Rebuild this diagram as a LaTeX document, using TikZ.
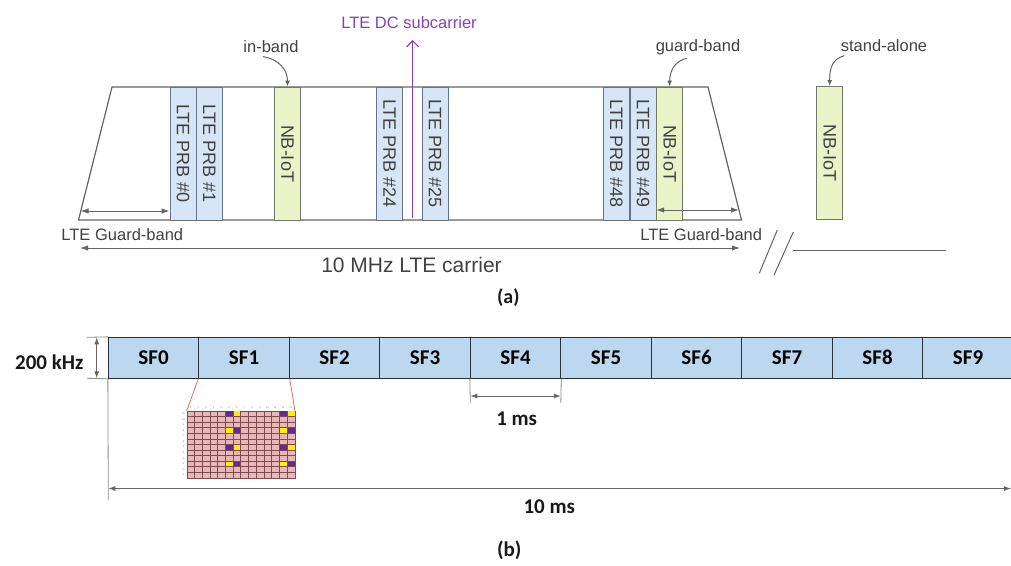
\documentclass[tikz,border=0pt]{standalone}
\usepackage{fontspec}
\setmainfont{Liberation Sans}
\newfontfamily\calibri{Carlito}
\usepackage{graphicx}
\usetikzlibrary{arrows.meta}

\definecolor{prbblue}{RGB}{214,230,247}
\definecolor{prbedge}{RGB}{100,115,135}
\definecolor{nbgreen}{RGB}{234,244,200}
\definecolor{nbedge}{RGB}{115,120,100}
\definecolor{linegray}{RGB}{100,100,100}
\definecolor{txtgray}{RGB}{65,65,65}
\definecolor{dcpurple}{RGB}{135,65,180}
\definecolor{sfblue}{RGB}{189,215,238}
\definecolor{sfedge}{RGB}{40,50,60}
\definecolor{rbpink}{RGB}{230,185,184}
\definecolor{rbline}{RGB}{125,75,80}
\definecolor{rbpurple}{RGB}{100,40,150}
\definecolor{rbyellow}{RGB}{255,240,0}
\definecolor{zoomred}{RGB}{225,110,110}

\tikzset{
  band/.style={draw=prbedge, fill=prbblue, line width=1pt, minimum width=26pt,
    minimum height=133pt, inner sep=0pt, text=txtgray, font=\fontsize{18}{20}\selectfont},
  nbiot/.style={band, draw=nbedge, fill=nbgreen},
  lbl/.style={text=txtgray, font=\fontsize{16.5}{19}\selectfont},
  bendarrow/.style={draw=linegray, line width=1pt, -{Latex[length=6pt,width=5pt]}},
  dimarrow/.style={draw=linegray, line width=1pt,
    {Latex[length=8pt,width=5.5pt]}-{Latex[length=8pt,width=5.5pt]}},
  sf/.style={draw=sfedge, fill=sfblue, line width=0.9pt, minimum width=90.5pt,
    minimum height=41pt, inner sep=0pt, font=\calibri\bfseries\fontsize{21}{24}\selectfont},
  blbl/.style={text=black!90, font=\calibri\bfseries\fontsize{21}{24}\selectfont},
  bdim/.style={draw=black!60, line width=0.9pt,
    {Latex[length=7pt,width=5pt]}-{Latex[length=7pt,width=5pt]}},
  tick/.style={draw=black!45, line width=0.8pt},
}

\begin{document}
\begin{tikzpicture}[x=1pt,y=-1pt]
   \useasboundingbox (0,0) rectangle (1011,565);

   % (a) 10 MHz LTE carrier
   \draw[linegray, line width=1.2pt] (112,87) -- (708,87) -- (741.5,220) -- (78.5,220) -- cycle;

   \node[band] (prb0) at (183,153.5) {\rotatebox{-90}{LTE PRB \#0}};
   \node[band] (prb1) at (209.2,153.5) {\rotatebox{-90}{LTE PRB \#1}};
   \node[nbiot] (nbin) at (287.5,153.5) {\rotatebox{-90}{NB-IoT}};
   \node[band] (prb24) at (389.7,153.5) {\rotatebox{-90}{LTE PRB \#24}};
   \node[band] (prb25) at (435,153.5) {\rotatebox{-90}{LTE PRB \#25}};
   \node[band] (prb48) at (616.3,153.5) {\rotatebox{-90}{LTE PRB \#48}};
   \node[band] (prb49) at (643,153.5) {\rotatebox{-90}{LTE PRB \#49}};
   \node[nbiot] (nbgb) at (669.7,153.5) {\rotatebox{-90}{NB-IoT}};
   \node[nbiot] (nbsa) at (829.7,153) {\rotatebox{-90}{NB-IoT}};

   \node[lbl] (inband) at (271,47) {in-band};
   \node[lbl] (gband) at (698,47) {guard-band};
   \node[lbl] (salone) at (884,46) {stand-alone};
   \node[lbl, text=dcpurple, anchor=base] (dclbl) at (409,28) {LTE DC subcarrier};

   \draw[bendarrow] ([xshift=-8pt]inband.south) .. controls +(17,3) and +(0,-16) .. (nbin.north);
   \draw[bendarrow] ([xshift=-11pt]gband.south) .. controls +(-13,3) and +(0,-15) .. (nbgb.north);
   \draw[bendarrow] ([xshift=7pt]salone.south west) .. controls +(-14,4) and +(0,-15) .. (nbsa.north);

   \coordinate (dc0) at (412.7,218);
   \coordinate (dc1) at (412.7,40);
   \draw[dcpurple, line width=1.2pt, -{Straight Barb[length=6pt,width=12pt]}] (dc0) -- (dc1);

   % guard bands and carrier width
   \coordinate (gl) at (80.5,211);
   \coordinate (gr) at (739,210);
   \draw[dimarrow] (gl) -- (prb0.west |- gl);
   \draw[dimarrow] (nbgb.west |- gr) -- (gr);
   \node[lbl] (gbleft) at (122.3,235) {LTE Guard-band};
   \node[lbl] (gbright) at (701.2,235) {LTE Guard-band};

   \coordinate (c0) at (80,248);
   \coordinate (c1) at (740,248);
   \draw[dimarrow] (c0) -- (c1);
   \node[lbl, font=\fontsize{21}{24}\selectfont] (carrier) at (411.5,265) {10 MHz LTE carrier};

   % break towards the stand-alone carrier
   \draw[linegray, line width=1pt] (777.3,230) -- (759.3,273.3);
   \draw[linegray, line width=1pt] (793.3,232) -- (774,275);
   \draw[linegray, line width=1pt] (792.7,250) -- (946,250);

   \node[blbl, font=\calibri\bfseries\fontsize{20}{24}\selectfont] (capa) at (508.3,298) {(a)};

   % (b) one radio frame of 10 subframes
   \node[sf] (sf0) at (153.55,357.8) {SF0};
   \node[sf] (sf1) at (244.05,357.8) {SF1};
   \node[sf] (sf2) at (334.55,357.8) {SF2};
   \node[sf] (sf3) at (425.05,357.8) {SF3};
   \node[sf] (sf4) at (515.55,357.8) {SF4};
   \node[sf] (sf5) at (606.05,357.8) {SF5};
   \node[sf] (sf6) at (696.55,357.8) {SF6};
   \node[sf] (sf7) at (787.05,357.8) {SF7};
   \node[sf] (sf8) at (877.55,357.8) {SF8};
   \node[sf] (sf9) at (968.05,357.8) {SF9};

   % bandwidth
   \coordinate (e0) at (87,337.3);
   \coordinate (e1) at (87,378.3);
   \draw[tick] (e0) -- (sf0.north west);
   \draw[tick] (e1) -- (sf0.south west);
   \draw[bdim] (96.7,337.3) -- (96.7,378.3);
   \node[blbl] (khz) at (49.3,362) {200 kHz};

   % subframe length
   \coordinate (t0) at (470.3,403);
   \coordinate (t1) at (560.8,403);
   \draw[tick] (sf4.south west) -- (t0);
   \draw[tick] (sf4.south east) -- (t1);
   \draw[bdim] (470.3,396) -- (560.8,396);
   \node[blbl] (onems) at (516.7,419) {1 ms};

   % frame length
   \coordinate (v1) at (108.3,500);
   \coordinate (f1) at (1011,488.5);
   \draw[tick] (sf0.south west) -- (v1);
   \draw[bdim] (108.3,488.5) -- (f1);
   \node[blbl] (tenms) at (549.3,506.7) {10 ms};
   \node[blbl] (capb) at (509.3,550) {(b)};

   % resource grid of SF1
   \node[draw=rbline, fill=rbpink, line width=0.5pt, minimum width=107.8pt, minimum height=66.6pt,
     inner sep=0pt, anchor=north west] (rgrid) at (186.7,411) {};
   \foreach \c/\r in {5/0,12/0,6/3,13/3,5/6,12/6,6/9,13/9}
      \fill[rbpurple] (186.7+7.7*\c,411+5.55*\r) rectangle +(7.7,5.55);
   \foreach \c/\r in {6/0,13/0,5/3,12/3,6/6,13/6,5/9,12/9}
      \fill[rbyellow] (186.7+7.7*\c,411+5.55*\r) rectangle +(7.7,5.55);
   \foreach \i in {1,...,13}
      \draw[rbline, line width=0.4pt] (186.7+7.7*\i,411) -- (186.7+7.7*\i,477.6);
   \foreach \j in {1,...,11}
      \draw[rbline, line width=0.4pt] (186.7,411+5.55*\j) -- (294.5,411+5.55*\j);
   \foreach \c in {0,...,13}
      \node[text=gray, inner sep=0pt, font=\fontsize{2.5}{3}\selectfont] (cn\c) at (190.55+7.7*\c,408) {\c};
   \foreach \r [evaluate=\r as \k using int(11-\r)] in {0,...,11}
      \node[text=gray, inner sep=0pt, font=\fontsize{2.5}{3}\selectfont] (rn\r) at (183.5,413.8+5.55*\r) {\k};
   \draw[zoomred, line width=0.8pt] (sf1.south west) -- (rgrid.north west);
   \draw[zoomred, line width=0.8pt] (sf1.south east) -- (rgrid.north east);
\end{tikzpicture}
\end{document}
